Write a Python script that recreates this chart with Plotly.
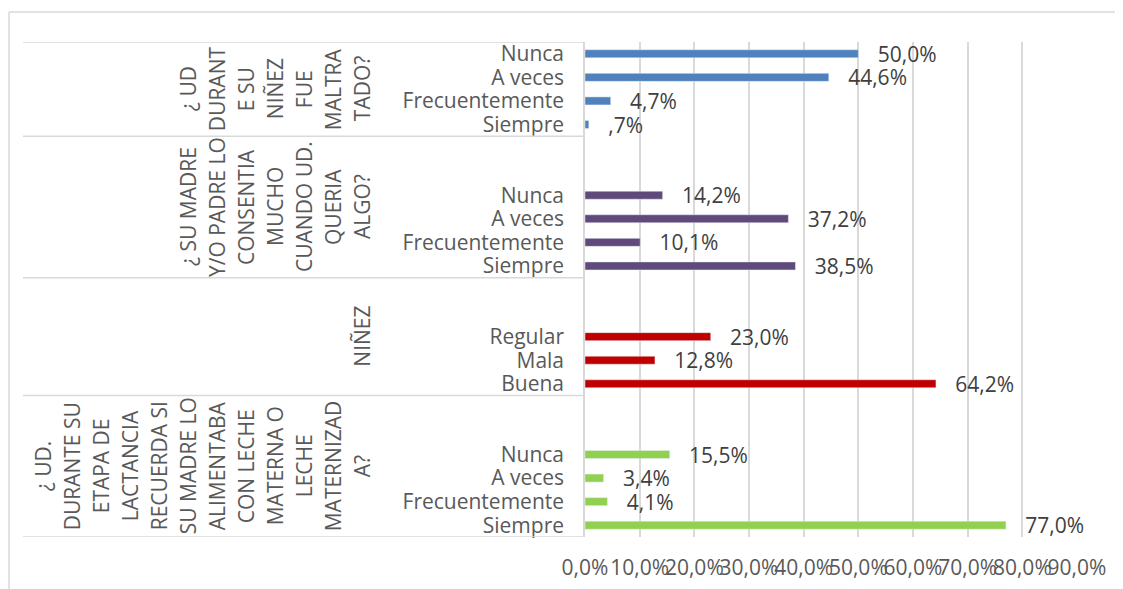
import plotly.graph_objects as go

# groups listed from top to bottom of the chart
group_titles = [
    ["¿ UD", "DURANT", "E SU", "NIÑEZ", "FUE", "MALTRA", "TADO?"],
    ["¿ SU MADRE", "Y/O PADRE LO", "CONSENTIA", "MUCHO", "CUANDO UD.", "QUERIA", "ALGO?"],
    ["NIÑEZ"],
    ["¿ UD.", "DURANTE SU", "ETAPA DE", "LACTANCIA", "RECUERDA SI", "SU MADRE LO",
     "ALIMENTABA", "CON LECHE", "MATERNA O", "LECHE", "MATERNIZAD", "A?"],
]
maltrato_cats = ["Nunca", "A veces", "Frecuentemente", "Siempre"]
maltrato_vals = [50.0, 44.6, 4.7, 0.7]
consentia_cats = ["Nunca", "A veces", "Frecuentemente", "Siempre"]
consentia_vals = [14.2, 37.2, 10.1, 38.5]
ninez_cats = ["Regular", "Mala", "Buena"]
ninez_vals = [23.0, 12.8, 64.2]
lactancia_cats = ["Nunca", "A veces", "Frecuentemente", "Siempre"]
lactancia_vals = [15.5, 3.4, 4.1, 77.0]
blank_rows = [0, 2, 2, 2]  # empty category rows above each group

colors = ["#4F81BD", "#604A7B", "#C00000", "#92D050"]
x_ticks = [0, 10, 20, 30, 40, 50, 60, 70, 80, 90]

groups = [
    (maltrato_cats, maltrato_vals),
    (consentia_cats, consentia_vals),
    (ninez_cats, ninez_vals),
    (lactancia_cats, lactancia_vals),
]


def pct(v):
    s = f"{v:.1f}".replace(".", ",")
    if s.startswith("0"):
        s = s[1:]
    return s + "%"


# assign row slots from the bottom up
n_rows = sum(len(c) + b for (c, _), b in zip(groups, blank_rows))
slot = n_rows - 1
fig = go.Figure()
tickvals, ticktext, bounds, centers = [], [], [n_rows - 0.5], []
for (cats, vals), blanks, col in zip(groups, blank_rows, colors):
    top = slot
    slot -= blanks
    ys = []
    for c in cats:
        ys.append(slot)
        tickvals.append(slot)
        ticktext.append(c)
        slot -= 1
    bounds.append(slot + 0.5)
    centers.append((top + slot + 1) / 2)
    fig.add_trace(go.Bar(
        x=vals, y=ys, orientation="h", width=0.34,
        marker_color=col,
        text=["\u00a0\u00a0\u00a0" + pct(v) for v in vals],
        textposition="outside", constraintext="none", cliponaxis=False,
        textfont=dict(size=21, color="#404040"),
        showlegend=False,
    ))

# page body has an 8px margin, so work in window pixels and shift
OFF = 8
W, H = 1123 - OFF, 589 - OFF
L, R, T, B = 585 - OFF, 1077 - OFF, 42 - OFF, 537 - OFF


def px_x(p):
    return (p - OFF - L) / (R - L)


def px_y(p):
    return (B - (p - OFF)) / (B - T)


shapes = []
for b in bounds:
    shapes.append(dict(type="line", xref="paper", yref="y", x0=px_x(23), x1=0,
                       y0=b, y1=b, line=dict(color="#D9D9D9", width=1.5)))
# outer chart border
shapes.append(dict(type="line", xref="paper", yref="paper", x0=px_x(9), x1=px_x(9),
                   y0=px_y(12), y1=px_y(600), line=dict(color="#D9D9D9", width=1.5)))
shapes.append(dict(type="line", xref="paper", yref="paper", x0=px_x(9), x1=px_x(1130),
                   y0=px_y(12), y1=px_y(12), line=dict(color="#D9D9D9", width=1.5)))

# rotated, wrapped group titles: one annotation per wrapped line
annotations = []
line_step = 29
last_line_x = 362
for lines, cy in zip(group_titles, centers):
    n = len(lines)
    for i, ln in enumerate(lines):
        annotations.append(dict(
            text=ln, xref="paper", yref="y",
            x=px_x(last_line_x - (n - 1 - i) * line_step), y=cy,
            xanchor="center", yanchor="middle", textangle=-90,
            showarrow=False, font=dict(size=21, color="#595959", family="Open Sans"),
        ))

fig.update_layout(
    width=W, height=H,
    margin=dict(l=L, r=W - R, t=T, b=H - B, autoexpand=False),
    barmode="overlay",
    plot_bgcolor="white", paper_bgcolor="white",
    font=dict(family="Open Sans", color="#595959", size=21),
    shapes=shapes, annotations=annotations,
)
fig.update_xaxes(
    range=[0, 90], tickvals=x_ticks, tickangle=0, automargin=False,
    ticktext=[f"{t:.1f}".replace(".", ",") + "%" for t in x_ticks],
    showgrid=True, gridcolor="#D9D9D9", gridwidth=1.5, zeroline=False,
    ticklabelstandoff=16, tickfont=dict(size=21, color="#595959"),
)
fig.update_yaxes(
    range=[-0.5, n_rows - 0.5], tickvals=tickvals, ticktext=ticktext, automargin=False,
    showgrid=False, zeroline=False, showline=True, linecolor="#D9D9D9", linewidth=1.5,
    ticklabelstandoff=15, tickfont=dict(size=21, color="#595959"),
)

fig.write_html("out.html")
